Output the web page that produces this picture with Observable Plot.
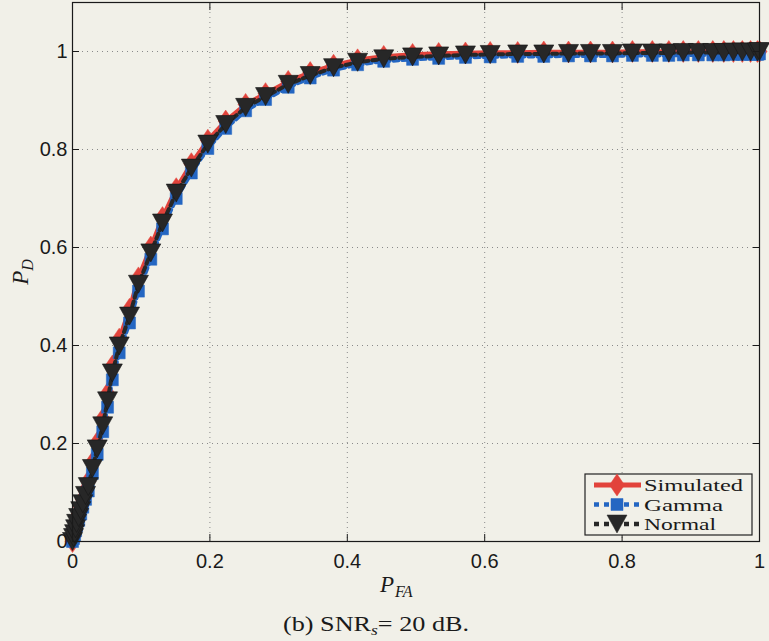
<!DOCTYPE html>
<html><head><meta charset="utf-8">
<script src="https://cdn.jsdelivr.net/npm/d3@7"></script>
<script src="https://cdn.jsdelivr.net/npm/@observablehq/plot@0.6"></script>
<style>
html,body{margin:0;padding:0;background:#f1f0e8;}
#wrap{position:relative;width:769px;height:641px;overflow:hidden;}
#over{position:absolute;left:0;top:0;}
</style></head><body><div id="wrap"></div>
<script>
// P_FA sample points (shared by all series)
const pfa = [0, 0.0015, 0.003, 0.0045, 0.006, 0.009, 0.012, 0.015, 0.019, 0.023,
  0.029, 0.036, 0.044, 0.051, 0.058, 0.068, 0.083, 0.096, 0.114, 0.131,
  0.151, 0.173, 0.197, 0.223, 0.252, 0.281, 0.314, 0.346, 0.38, 0.415,
  0.453, 0.495, 0.533, 0.572, 0.608, 0.648, 0.686, 0.722, 0.754, 0.786,
  0.815, 0.844, 0.868, 0.889, 0.911, 0.932, 0.948, 0.962, 0.975, 0.987, 0.997, 1];
const pdSimulated = [0, 0.01, 0.02, 0.031, 0.043, 0.056, 0.071, 0.086, 0.104, 0.123,
  0.161, 0.202, 0.25, 0.302, 0.358, 0.413, 0.474, 0.538, 0.601, 0.661,
  0.72, 0.771, 0.819, 0.858, 0.892, 0.914, 0.939, 0.957, 0.972, 0.983,
  0.99, 0.994, 0.996, 0.997, 0.998, 0.998, 0.999, 0.999, 0.999, 0.999,
  1, 1, 1, 1, 1, 1, 1, 1, 1, 1, 1, 1];
const pdGamma = [0, 0.006, 0.013, 0.022, 0.032, 0.043, 0.056, 0.07, 0.086, 0.103,
  0.139, 0.178, 0.224, 0.274, 0.33, 0.385, 0.446, 0.511, 0.576, 0.638,
  0.7, 0.752, 0.802, 0.843, 0.879, 0.902, 0.927, 0.946, 0.962, 0.973,
  0.98, 0.984, 0.986, 0.988, 0.989, 0.99, 0.99, 0.991, 0.991, 0.991,
  0.992, 0.992, 0.992, 0.993, 0.993, 0.993, 0.993, 0.994, 0.994, 0.994, 0.994, 0.995];
const pdNormal = [0, 0.008, 0.016, 0.026, 0.037, 0.049, 0.063, 0.077, 0.094, 0.112,
  0.149, 0.189, 0.236, 0.287, 0.344, 0.399, 0.46, 0.525, 0.589, 0.65,
  0.711, 0.762, 0.811, 0.851, 0.886, 0.908, 0.933, 0.951, 0.967, 0.978,
  0.985, 0.989, 0.991, 0.993, 0.994, 0.995, 0.995, 0.996, 0.996, 0.996,
  0.997, 0.997, 0.997, 0.998, 0.998, 0.998, 0.998, 0.999, 0.999, 0.999, 0.999, 1];

const xTicks = [0, 0.2, 0.4, 0.6, 0.8, 1];
const xTickLabels = ["0", "0.2", "0.4", "0.6", "0.8", "1"];
const yTicks = [0, 0.2, 0.4, 0.6, 0.8, 1];
const yTickLabels = ["0", "0.2", "0.4", "0.6", "0.8", "1"];
const seriesNames = ["Simulated", "Gamma", "Normal"];
const seriesColors = ["#e2433b", "#2466c2", "#272727"];
const caption = "(b) SNR";

const rows = (pd, name) => pfa.map((x, i) => ({x, y: pd[i], name}));
const sim = rows(pdSimulated, seriesNames[0]);
const gam = rows(pdGamma, seriesNames[1]);
const nor = rows(pdNormal, seriesNames[2]);

const triDown = {draw(ctx) { ctx.moveTo(-10, -9); ctx.lineTo(10, -9); ctx.lineTo(0, 9); ctx.closePath(); }};
const diamond = {draw(ctx) { ctx.moveTo(0, -11); ctx.lineTo(7.5, 0); ctx.lineTo(0, 11); ctx.lineTo(-7.5, 0); ctx.closePath(); }};
const square = {draw(ctx) { ctx.rect(-6, -6, 12, 12); }};

const fx = d => xTickLabels[xTicks.indexOf(d)];
const fy = d => yTickLabels[yTicks.indexOf(d)];

const chart = Plot.plot({
  width: 769, height: 605,
  marginLeft: 72, marginRight: 10, marginTop: 2, marginBottom: 64,
  style: {background: "transparent", fontFamily: "'Liberation Sans', Arial, sans-serif", fontSize: "20px", color: "#1a1a1a", overflow: "visible"},
  x: {domain: [0, 1]},
  y: {domain: [0, 1.1]},
  marks: [
    Plot.gridX(xTicks, {stroke: "#8a8a8a", strokeOpacity: 1, strokeDasharray: "1,4"}),
    Plot.gridY(yTicks, {stroke: "#8a8a8a", strokeOpacity: 1, strokeDasharray: "1,4"}),
    Plot.line(sim, {x: "x", y: "y", stroke: seriesColors[0], strokeWidth: 4.5}),
    Plot.dot(sim, {x: "x", y: "y", symbol: diamond, fill: seriesColors[0], stroke: seriesColors[0], strokeWidth: 0.5}),
    Plot.line(gam, {x: "x", y: "y", stroke: seriesColors[1], strokeWidth: 4, strokeDasharray: "5,4"}),
    Plot.dot(gam, {x: "x", y: "y", symbol: square, fill: seriesColors[1], stroke: seriesColors[1], strokeWidth: 0.5}),
    Plot.line(nor, {x: "x", y: "y", stroke: seriesColors[2], strokeWidth: 4, strokeDasharray: "5,4"}),
    Plot.dot(nor, {x: "x", y: "y", symbol: triDown, fill: seriesColors[2], stroke: "#151515", strokeWidth: 0.6}),
    Plot.axisX({ticks: xTicks, tickFormat: fx, tickSize: -7, tickPadding: 19, label: null, stroke: "#1a1a1a"}),
    Plot.axisX({anchor: "top", ticks: xTicks, tickFormat: () => "", tickSize: -7, label: null}),
    Plot.axisY({ticks: yTicks, tickFormat: fy, tickSize: -7, tickPadding: 12, label: null}),
    Plot.axisY({anchor: "right", ticks: yTicks, tickFormat: () => "", tickSize: -7, label: null}),
    Plot.frame({stroke: "#1a1a1a", strokeWidth: 1.2})
  ]
});
const wrap = document.getElementById("wrap");
wrap.appendChild(chart);

// Overlay: axis labels, legend, caption
const svg = d3.create("svg").attr("id", "over").attr("width", 769).attr("height", 641);
const serif = "'Liberation Serif', 'Times New Roman', serif";

const pd = svg.append("text").attr("transform", "translate(28,272) rotate(-90)")
  .attr("text-anchor", "middle").attr("font-family", serif).attr("font-style", "italic")
  .attr("font-size", 23).attr("fill", "#1a1a1a");
pd.append("tspan").text("P");
pd.append("tspan").attr("font-size", 16).attr("dy", 5).text("D");

const pf = svg.append("text").attr("x", 380).attr("y", 592)
  .attr("font-family", serif).attr("font-style", "italic").attr("font-size", 23).attr("fill", "#1a1a1a");
pf.append("tspan").text("P");
pf.append("tspan").attr("font-size", 16).attr("dy", 5).attr("dx", 1).text("FA");

// Legend
const lg = svg.append("g");
lg.append("rect").attr("x", 585).attr("y", 474).attr("width", 167).attr("height", 61)
  .attr("fill", "#f1f0e8").attr("stroke", "#222").attr("stroke-width", 1.2);
const rowY = [485, 504.5, 524];
const textW = [99, 79, 72];
const symbols = [diamond, square, triDown];
seriesNames.forEach((name, i) => {
  const y = rowY[i];
  lg.append("line").attr("x1", 594).attr("x2", 641).attr("y1", y).attr("y2", y)
    .attr("stroke", seriesColors[i]).attr("stroke-width", i === 0 ? 5 : 4.5)
    .attr("stroke-dasharray", i === 0 ? null : "5,5");
  lg.append("path").attr("transform", `translate(617,${y})`)
    .attr("d", d3.symbol(symbols[i])())
    .attr("fill", seriesColors[i]).attr("stroke", seriesColors[i]).attr("stroke-width", 0.5);
  lg.append("text").attr("x", 644).attr("y", y + 6).attr("font-family", serif).attr("font-size", 16)
    .attr("fill", "#1a1a1a").attr("textLength", textW[i]).attr("lengthAdjust", "spacingAndGlyphs").text(name);
});

// Caption
const cap = svg.append("text").attr("x", 283).attr("y", 631).attr("font-family", serif)
  .attr("font-size", 21).attr("fill", "#1a1a1a").attr("textLength", 186).attr("lengthAdjust", "spacingAndGlyphs");
cap.append("tspan").text(caption);
cap.append("tspan").attr("font-style", "italic").attr("font-size", 14).attr("dy", 4).text("s");
cap.append("tspan").attr("dy", -4).text("= 20 dB.");

wrap.appendChild(svg.node());
</script></body></html>
